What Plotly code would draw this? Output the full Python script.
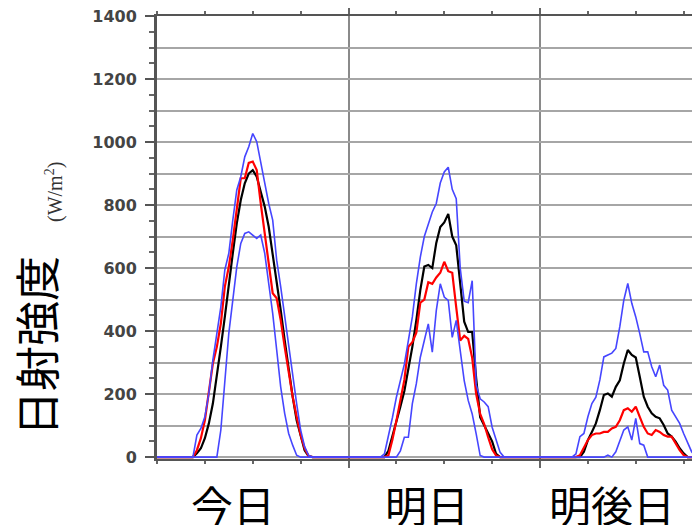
import plotly.graph_objects as go

# ---- data (W/m^2), half-hour steps from 04:00 to 20:00 of each day ----
DAY_HOURS = [4.0, 4.5, 5.0, 5.5, 6.0, 6.5, 7.0, 7.5, 8.0, 8.5, 9.0, 9.5, 10.0, 10.5,
             11.0, 11.5, 12.0, 12.5, 13.0, 13.5, 14.0, 14.5, 15.0, 15.5, 16.0, 16.5,
             17.0, 17.5, 18.0, 18.5, 19.0, 19.5, 20.0]
DAY_LABELS = ["今日", "明日", "明後日"]

# day 1 (今日)
d1_black = [0, 0, 12, 28, 60, 107, 170, 255, 350, 445, 551, 647, 742, 816, 869, 900, 911,
            890, 842, 795, 731, 647, 562, 467, 371, 276, 192, 117, 65, 22, 3, 0, 0]
d1_red = [0, 0, 22, 60, 117, 202, 297, 350, 424, 541, 604, 689, 784, 885, 885, 934, 938,
          911, 805, 710, 615, 520, 504, 435, 350, 266, 192, 128, 70, 28, 3, 0, 0]
d1_upper = [0, 0, 70, 91, 128, 202, 308, 393, 477, 594, 647, 752, 848, 890, 953, 985, 1027,
            1001, 932, 869, 805, 752, 625, 541, 445, 350, 255, 170, 86, 33, 6, 0, 0]
d1_lower = [0, 0, 0, 0, 0, 0, 0, 0, 86, 244, 393, 498, 604, 678, 710, 715, 705,
            694, 705, 647, 551, 456, 340, 223, 139, 75, 38, 6, 0, 0, 0, 0, 0]

# day 2 (明日)
d2_black = [0, 0, 20, 65, 115, 160, 210, 280, 350, 435, 530, 605, 610, 600, 680, 730, 745,
            772, 700, 672, 555, 430, 397, 397, 250, 127, 101, 75, 50, 10, 0, 0, 0]
d2_red = [0, 0, 5, 55, 115, 180, 245, 350, 365, 395, 490, 500, 555, 550, 570, 585, 620,
          590, 585, 475, 370, 385, 375, 315, 200, 137, 105, 63, 25, 5, 0, 0, 0]
d2_upper = [0, 10, 63, 125, 190, 245, 295, 370, 445, 550, 635, 700, 740, 778, 805, 870, 905,
            920, 850, 820, 600, 495, 490, 560, 230, 185, 175, 160, 95, 53, 15, 0, 0]
d2_lower = [0, 0, 0, 0, 0, 20, 63, 63, 170, 233, 317, 370, 423, 333, 465, 550, 508,
            497, 380, 434, 340, 243, 180, 137, 74, 5, 0, 0, 0, 0, 0, 0, 0]

# day 3 (明後日)
d3_black = [0, 0, 0, 17, 54, 80, 107, 149, 197, 202, 192, 223, 244, 297, 340, 324, 316,
            255, 192, 160, 139, 128, 123, 102, 75, 65, 49, 28, 12, 0, 0, 0, 0]
d3_red = [0, 0, 6, 28, 54, 70, 75, 75, 80, 80, 91, 96, 117, 149, 155, 144, 160,
          128, 96, 75, 70, 86, 80, 70, 65, 65, 43, 22, 6, 0, 0, 0, 0]
d3_upper = [0, 10, 65, 75, 128, 170, 190, 245, 318, 324, 330, 345, 414, 498, 551, 488, 445,
            392, 334, 334, 287, 255, 292, 228, 213, 149, 128, 107, 75, 43, 17, 0, 0]
d3_lower = [0, 0, 0, 0, 0, 0, 0, 0, 0, 6, 0, 17, 49, 86, 96, 54, 123,
            43, 38, 0, 0, 0, 0, 0, 0, 0, 0, 0, 0, 0, 0, 0, 0]

Y_TICKS = [0, 200, 400, 600, 800, 1000, 1200, 1400]


def build(days):
    xs, ys = [], []
    for d, vals in enumerate(days):
        xs += [24 * d + h * 0.5 for h in range(0, 8)]
        ys += [0] * 8
        xs += [24 * d + h for h in DAY_HOURS]
        ys += vals
        xs += [24 * d + 20.5 + 0.5 * k for k in range(7)]
        ys += [0] * 7
    xs.append(72)
    ys.append(0)
    return xs, ys


series = [
    ([d1_black, d2_black, d3_black], "black", 2.2),
    ([d1_red, d2_red, d3_red], "#ff0000", 2.2),
    ([d1_upper, d2_upper, d3_upper], "#4646ff", 1.6),
    ([d1_lower, d2_lower, d3_lower], "#4646ff", 1.6),
]

fig = go.Figure()
# invisible helper trace so the overlaid grid axis (every 100 W/m2) is drawn
fig.add_trace(go.Scatter(x=[0, 1], y=[0, 0], yaxis="y2", mode="lines",
                         line=dict(width=0), opacity=0, showlegend=False, hoverinfo="skip"))
for days, color, w in series:
    x, y = build(days)
    fig.add_trace(go.Scatter(x=x, y=y, mode="lines", line=dict(color=color, width=w),
                             showlegend=False, hoverinfo="skip"))

OFF = 8  # page body margin of the browser
W, H = 700, 525
PL, PT, PB, PR = 157, 16, 459, 700   # plot box in screenshot pixels
L = PL - OFF
T = PT - OFF
B = H - (PB - OFF)
R = (W + OFF) - PR
XMAX = 68.05
YMIN = -6

fig.update_layout(
    width=W, height=H,
    margin=dict(l=L, r=R, t=T, b=B, autoexpand=False),
    paper_bgcolor="white", plot_bgcolor="white",
    showlegend=False,
    xaxis=dict(
        range=[0, XMAX], tickvals=[24, 48], showticklabels=False,
        showgrid=True, gridcolor="#8a8a8a", gridwidth=1.5,
        ticks="outside", ticklen=7, tickwidth=1.5, tickcolor="#666",
        showline=True, linecolor="#555", linewidth=2, mirror="ticks",
        zeroline=False, automargin=False,
        minor=dict(tickmode="linear", tick0=0, dtick=6, ticks="outside", ticklen=3,
                   tickwidth=1.5, tickcolor="#666", showgrid=False),
    ),
    yaxis=dict(
        range=[YMIN, 1400], tickvals=Y_TICKS, ticktext=[str(v) for v in Y_TICKS],
        showgrid=False, zeroline=False, automargin=False,
        ticks="outside", ticklen=9, tickwidth=2, tickcolor="#555",
        showline=True, linecolor="#555", linewidth=3,
        tickfont=dict(family="DejaVu Sans", size=16, color="#444", weight="bold"),
        ticklabelstandoff=5, ticklabeloverflow="allow",
        minor=dict(tickmode="linear", tick0=0, dtick=50, ticks="outside", ticklen=5,
                   tickwidth=1.5, tickcolor="#666", showgrid=False),
    ),
    yaxis2=dict(
        range=[YMIN, 1400], overlaying="y", side="left", tickmode="linear", tick0=0,
        dtick=100, showgrid=True, gridcolor="#a6a6a6", gridwidth=1.5,
        showticklabels=False, ticks="", showline=False, zeroline=False, automargin=False,
    ),
)

pw = W - L - R
ph = H - T - B


def px_to_paper(px, py):
    return (px - PL) / pw, (PB - py) / ph


# day labels below the plot
label_px = [233, 427, 612]
for lab, lx in zip(DAY_LABELS, label_px):
    ax, ay = px_to_paper(lx, 503)
    fig.add_annotation(x=ax, xref="paper", y=ay, yref="paper", text=lab, showarrow=False,
                       xanchor="center", yanchor="middle",
                       font=dict(family="Noto Sans CJK JP", size=42, color="black"))

ax, ay = px_to_paper(35, 346)
fig.add_annotation(x=ax, xref="paper", y=ay, yref="paper",
                   text="日射強度", textangle=-90, showarrow=False,
                   xanchor="center", yanchor="middle",
                   font=dict(family="Noto Sans CJK JP", size=45, color="black"))
ax, ay = px_to_paper(54, 192)
fig.add_annotation(x=ax, xref="paper", y=ay, yref="paper",
                   text="(W/m<sup>2</sup>)", textangle=-90, showarrow=False,
                   xanchor="center", yanchor="middle",
                   font=dict(family="Liberation Serif", size=20, color="#333"))

fig.write_html("out.html")
